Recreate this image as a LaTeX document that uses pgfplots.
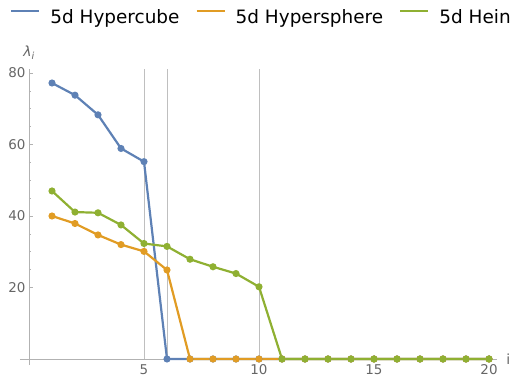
\documentclass[border=0pt]{standalone}
\usepackage{fontspec}
\setmainfont{DejaVu Sans}
\usepackage{pgfplots}
\pgfplotsset{compat=1.18}
\definecolor{cblue}{HTML}{5E81B5}
\definecolor{corange}{HTML}{E19C24}
\definecolor{cgreen}{HTML}{8FB032}
\begin{document}
\begin{tikzpicture}
\path[use as bounding box] (-29bp,-20bp) rectangle (484bp,359bp);
\begin{axis}[
  at={(0,0)}, anchor=origin,
  x=23bp, y=3.575bp,
  xmin=-0.4, xmax=20.35, ymin=-1.7, ymax=81,
  axis lines=middle,
  axis line style={-, draw=black!30, line width=0.8bp},
  xtick={5,10,15,20}, ytick={20,40,60,80},
  minor x tick num=4, minor y tick num=3,
  tick align=inside, major tick length=4bp, minor tick length=2.5bp,
  tick style={black!30, line width=0.6bp},
  tick label style={font=\fontsize{13.5}{15}\selectfont, text=black!60},
  xticklabel style={yshift=-2bp},
  /pgf/number format/assume math mode=true,
  xlabel={i}, ylabel={\itshape λ\textsubscript{i}},
  xlabel style={at={(axis cs:20.35,0)}, anchor=west, inner sep=0pt, xshift=9bp, text=black!60, font=\fontsize{14}{16}\selectfont},
  ylabel style={at={(axis cs:0,81)}, anchor=south, inner sep=0pt, yshift=10bp, text=black!60, font=\fontsize{14}{16}\selectfont},
  clip=false,
  legend columns=3,
  legend cell align=left,
  legend image code/.code={\draw[#1, line width=2.2bp, mark=none] (0bp,6.3bp) -- (28bp,6.3bp);},
  legend style={at={(axis cs:-0.826,95.66)}, anchor=west, draw=none, fill=none, inner sep=0pt,
    font=\fontsize{18.5}{22}\selectfont,
    nodes={inner sep=0pt},
    /tikz/every odd column/.append style={column sep=10bp},
    /tikz/every even column/.append style={column sep=16bp}},
]
\addplot[black!25, line width=0.9bp, forget plot] coordinates {(5,0) (5,81)};
\addplot[black!25, line width=0.9bp, forget plot] coordinates {(6,0) (6,81)};
\addplot[black!25, line width=0.9bp, forget plot] coordinates {(10,0) (10,81)};
\addplot[cblue, line width=2.2bp, mark=*, mark size=2.4bp] coordinates {
(1,77.2) (2,73.8) (3,68.3) (4,58.9) (5,55.2) (6,0) (7,0) (8,0) (9,0) (10,0)
(11,0) (12,0) (13,0) (14,0) (15,0) (16,0) (17,0) (18,0) (19,0) (20,0)};
\addlegendentry{5d Hypercube}
\addplot[corange, line width=2.2bp, mark=*, mark size=2.4bp] coordinates {
(1,40.0) (2,37.9) (3,34.7) (4,32.0) (5,30.1) (6,24.9) (7,0) (8,0) (9,0) (10,0)
(11,0) (12,0) (13,0) (14,0) (15,0) (16,0) (17,0) (18,0) (19,0) (20,0)};
\addlegendentry{5d Hypersphere}
\addplot[cgreen, line width=2.2bp, mark=*, mark size=2.4bp] coordinates {
(1,47.0) (2,41.1) (3,40.9) (4,37.5) (5,32.3) (6,31.5) (7,27.9) (8,25.8) (9,23.9) (10,20.2)
(11,0) (12,0) (13,0) (14,0) (15,0) (16,0) (17,0) (18,0) (19,0) (20,0)};
\addlegendentry{5d Hein}
\end{axis}
\end{tikzpicture}
\end{document}
